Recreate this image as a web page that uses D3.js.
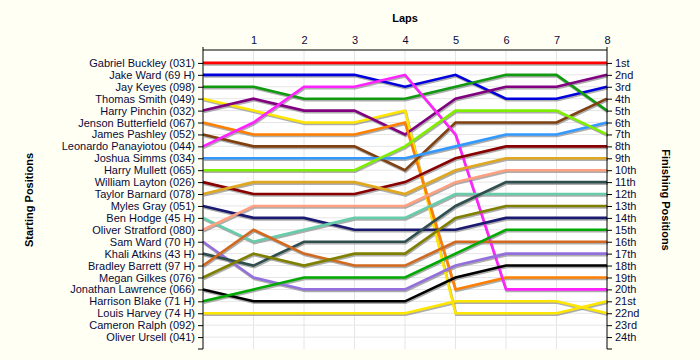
<!DOCTYPE html>
<html><head><meta charset="utf-8">
<script src="https://cdn.jsdelivr.net/npm/d3@7"></script>
<style>
html,body{margin:0;padding:0;background:#fffff4;}
svg{display:block;font-family:"Liberation Sans",Arial,sans-serif;}
</style></head>
<body>
<script>
const laps = [0,1,2,3,4,5,6,7,8];
const lapTickLabels = ["1","2","3","4","5","6","7","8"];
const drivers = ["Gabriel Buckley (031)","Jake Ward (69 H)","Jay Keyes (098)","Thomas Smith (049)","Harry Pinchin (032)","Jenson Butterfield (067)","James Pashley (052)","Leonardo Panayiotou (044)","Joshua Simms (034)","Harry Mullett (065)","William Layton (026)","Taylor Barnard (078)","Myles Gray (051)","Ben Hodge (45 H)","Oliver Stratford (080)","Sam Ward (70 H)","Khali Atkins (43 H)","Bradley Barrett (97 H)","Megan Gilkes (076)","Jonathan Lawrence (066)","Harrison Blake (71 H)","Louis Harvey (74 H)","Cameron Ralph (092)","Oliver Ursell (041)"];
const finishLabels = ["1st","2nd","3rd","4th","5th","6th","7th","8th","9th","10th","11th","12th","13th","14th","15th","16th","17th","18th","19th","20th","21st","22nd","23rd","24th"];
const colors = ["#ff0000","#0000dd","#119911","#ffe600","#800080","#ff8000","#804010","#ff22ff","#3399ff","#80ee00","#880000","#e0a820","#1a1a70","#66ccaa","#ffa080","#9370db","#2f4f4f","#d2691e","#808000","#000000","#00aa00","#ffe600"];
// positions per lap (lap 0 .. lap 8)
const positions = [
  [1,1,1,1,1,1,1,1,1],
  [2,2,2,2,3,2,4,4,3],
  [3,3,4,4,4,3,2,2,5],
  [4,5,6,6,5,22,22,22,21],
  [5,4,5,5,7,4,3,3,2],
  [6,7,7,7,6,20,19,19,19],
  [7,8,8,8,10,6,6,6,4],
  [8,6,3,3,2,7,20,20,20],
  [9,9,9,9,9,8,7,7,6],
  [10,10,10,10,8,5,5,5,7],
  [11,12,12,12,11,9,8,8,8],
  [12,11,11,11,12,10,9,9,9],
  [13,14,14,15,15,15,14,14,14],
  [14,16,15,14,14,12,12,12,12],
  [15,13,13,13,13,11,10,10,10],
  [16,19,20,20,20,18,17,17,17],
  [17,18,16,16,16,13,11,11,11],
  [18,15,17,18,18,16,16,16,16],
  [19,17,18,17,17,14,13,13,13],
  [20,21,21,21,21,19,18,18,18],
  [21,20,19,19,19,17,15,15,15],
  [22,22,22,22,22,21,21,21,22]
];

const W=700,H=360;
const svg=d3.select("body").append("svg").attr("width",W).attr("height",H);
svg.append("rect").attr("width",W).attr("height",H).attr("fill","#fffff4");
const x=d3.scaleLinear().domain([0,8]).range([203,607]);
const y=d3.scaleLinear().domain([0,25]).range([51,349]);
const rows=d3.range(1,25);

svg.append("rect").attr("x",x(0)).attr("y",y(0)).attr("width",x(8)-x(0)).attr("height",y(25)-y(0)).attr("fill","#ffffff");

// grid
const g=svg.append("g");
g.selectAll("line.hg").data(rows).join("line")
  .attr("x1",x(0)).attr("x2",x(8)).attr("y1",d=>y(d)).attr("y2",d=>y(d))
  .attr("stroke","#e6e6e6").attr("stroke-width",1);
g.selectAll("line.vg").data(laps.slice(1,8)).join("line")
  .attr("x1",d=>x(d)).attr("x2",d=>x(d)).attr("y1",y(0)).attr("y2",y(25))
  .attr("stroke","#e6e6e6").attr("stroke-width",1);

const line=d3.line().x((d,i)=>x(laps[i])).y(d=>y(d));

// shadows
const sh=svg.append("g").attr("transform","translate(0.8,1.5)");
sh.selectAll("path").data(positions).join("path")
  .attr("d",line).attr("fill","none").attr("stroke","#8a8a8a").attr("stroke-opacity",0.7).attr("stroke-width",2.6);
// lines
svg.append("g").selectAll("path").data(positions).join("path")
  .attr("d",line).attr("fill","none").attr("stroke",(d,i)=>colors[i]).attr("stroke-width",2.6).attr("stroke-linejoin","miter");

// axes
const leftAxis=d3.axisLeft(y).tickValues(rows).tickFormat(d=>drivers[d-1]).tickSize(5).tickPadding(3);
const la=svg.append("g").attr("transform",`translate(${x(0)},0)`).call(leftAxis);
const rightAxis=d3.axisRight(y).tickValues(rows).tickFormat(d=>finishLabels[d-1]).tickSize(5).tickPadding(3);
const ra=svg.append("g").attr("transform",`translate(${x(8)},0)`).call(rightAxis);
const topAxis=d3.axisTop(x).tickValues(d3.range(1,9)).tickFormat(d=>lapTickLabels[d-1]).tickSize(0).tickPadding(6);
const ta=svg.append("g").attr("transform",`translate(0,${y(0)-1})`).call(topAxis);
[la,ra,ta].forEach(a=>{
  a.select(".domain").remove();
  a.selectAll("text").attr("font-size",11).attr("fill","#0a0a3a").attr("font-family","'Liberation Sans',Arial,sans-serif");
  a.selectAll(".tick line").attr("stroke","#000");
});
// axis lines
svg.append("line").attr("x1",x(0)).attr("x2",x(8)).attr("y1",y(0)-1).attr("y2",y(0)-1).attr("stroke","#000");
svg.append("line").attr("x1",x(0)).attr("x2",x(0)).attr("y1",y(0)-4).attr("y2",y(25)).attr("stroke","#000");
svg.append("line").attr("x1",x(8)).attr("x2",x(8)).attr("y1",y(0)-4).attr("y2",y(25)).attr("stroke","#000");
svg.append("line").attr("x1",x(0)-5).attr("x2",x(0)).attr("y1",y(25)).attr("y2",y(25)).attr("stroke","#000");
svg.append("line").attr("x1",x(8)).attr("x2",x(8)+5).attr("y1",y(25)).attr("y2",y(25)).attr("stroke","#000");

// titles
svg.append("text").attr("x",(x(0)+x(8))/2).attr("y",22).attr("text-anchor","middle")
  .attr("font-size",11).attr("font-weight","bold").text("Laps");
svg.append("text").attr("transform",`translate(33,${(y(0)+y(25))/2}) rotate(-90)`).attr("text-anchor","middle")
  .attr("font-size",11).attr("font-weight","bold").text("Starting Positions");
svg.append("text").attr("transform",`translate(662,${(y(0)+y(25))/2}) rotate(90)`).attr("text-anchor","middle")
  .attr("font-size",11).attr("font-weight","bold").text("Finishing Positions");
</script>
</body></html>
